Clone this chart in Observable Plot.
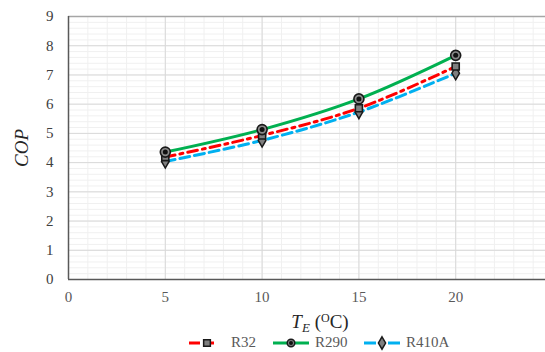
<!DOCTYPE html>
<html>
<head>
<meta charset="utf-8">
<script src="https://cdn.jsdelivr.net/npm/d3@7"></script>
<script src="https://cdn.jsdelivr.net/npm/@observablehq/plot@0.6"></script>
<style>
html, body { margin: 0; padding: 0; background: #fff; overflow: hidden; width: 545px; height: 352px; }
#chart { width: 545px; height: 333px; overflow: hidden; }
#chart svg { max-width: none !important; }
#chart svg text { font-family: "Liberation Serif", serif; }
#legend { position: relative; height: 19px; font-family: "Liberation Serif", serif; font-size: 15px; color: #595959; }
#legend .item { position: absolute; top: 0; display: flex; align-items: center; gap: 5px; height: 19px; }
</style>
</head>
<body>
<div id="chart"></div>
<div id="legend"></div>
<script>
const temps = [5, 10, 15, 20];
const r32 = [4.19, 4.93, 5.86, 7.29];
const r290 = [4.36, 5.13, 6.18, 7.67];
const r410a = [4.04, 4.76, 5.73, 7.06];
const xTicks = [0, 5, 10, 15, 20, 25];
const yTicks = [0, 1, 2, 3, 4, 5, 6, 7, 8, 9];
const seriesNames = ["R32", "R290", "R410A"];

const mk = (vals) => temps.map((t, i) => ({t, v: vals[i]}));
const d32 = mk(r32), d290 = mk(r290), d410 = mk(r410a);

const minorX = d3.range(0, 26, 1);
const minorY = d3.range(0, 9.001, 0.2);
const serif = "Liberation Serif";

const plot = Plot.plot({
  width: 560,
  height: 333,
  marginLeft: 68,
  marginRight: 8,
  marginTop: 16,
  marginBottom: 54,
  style: {fontFamily: "'Liberation Serif', serif", fontSize: "15px", color: "#404040", background: "#fff", maxWidth: "none"},
  x: {domain: [0, 25], label: null},
  y: {domain: [0, 9], label: null},
  marks: [
    Plot.gridX(minorX, {stroke: "#f0f0f0", strokeOpacity: 1}),
    Plot.gridY(minorY, {stroke: "#f0f0f0", strokeOpacity: 1}),
    Plot.gridX(xTicks, {stroke: "#d9d9d9", strokeOpacity: 1}),
    Plot.gridY(yTicks, {stroke: "#d9d9d9", strokeOpacity: 1}),
    Plot.ruleY([9], {stroke: "#a6a6a6", strokeWidth: 1.5}),
    Plot.axisX(xTicks, {tickSize: 0, tickPadding: 12, fill: "#595959", fontSize: 15, fontFamily: serif}),
    Plot.axisY(yTicks, {tickSize: 0, tickPadding: 15, fill: "#404040", fontSize: 15, fontFamily: serif}),
    Plot.ruleY([0], {stroke: "#595959", strokeWidth: 1.5}),
    Plot.ruleX([0], {stroke: "#595959", strokeWidth: 1.5}),
    Plot.line(d410, {x: "t", y: "v", stroke: "#00B0F0", strokeWidth: 3, strokeDasharray: "10,5", curve: "catmull-rom"}),
    Plot.line(d32, {x: "t", y: "v", stroke: "#FF0000", strokeWidth: 3, strokeDasharray: "10,5,3,5", curve: "catmull-rom"}),
    Plot.line(d290, {x: "t", y: "v", stroke: "#00B050", strokeWidth: 3, curve: "catmull-rom"}),
    Plot.dot(d410, {x: "t", y: "v", symbol: "diamond", r: 4, fill: "#7f7f7f", stroke: "#1a1a1a", strokeWidth: 1.5}),
    Plot.dot(d32, {x: "t", y: "v", symbol: "square", r: 4, fill: "#7f7f7f", stroke: "#1a1a1a", strokeWidth: 1.6}),
    Plot.dot(d290, {x: "t", y: "v", symbol: "circle", r: 5, fill: "#8a8a8a", stroke: "#1a1a1a", strokeWidth: 1.6}),
    Plot.dot(d290, {x: "t", y: "v", symbol: "circle", r: 2.5, fill: "#111"})
  ]
});
document.getElementById("chart").appendChild(plot);

const svg = d3.select(plot);
// Axis titles
const xt = svg.append("text")
  .attr("x", 320).attr("y", 328)
  .attr("text-anchor", "middle")
  .attr("font-family", "'Liberation Serif', serif")
  .attr("font-size", 19).attr("fill", "#262626");
xt.append("tspan").attr("font-style", "italic").text("T");
xt.append("tspan").attr("font-style", "italic").attr("font-size", 13).attr("dy", 4).text("E");
xt.append("tspan").attr("dy", -4).text(" (");
xt.append("tspan").attr("font-size", 12).attr("dy", -6).text("O");
xt.append("tspan").attr("dy", 6).text("C)");

svg.append("text")
  .attr("transform", "translate(28,148) rotate(-90)")
  .attr("text-anchor", "middle")
  .attr("font-family", "'Liberation Serif', serif")
  .attr("font-style", "italic")
  .attr("font-size", 19).attr("fill", "#262626")
  .text("COP");

// Legend
const legend = d3.select("#legend");
const specs = [
  {name: seriesNames[0], color: "#FF0000", dash: "11,8,6,20", symbol: d3.symbolSquare, left: 188},
  {name: seriesNames[1], color: "#00B050", dash: null, symbol: d3.symbolCircle, left: 272},
  {name: seriesNames[2], color: "#00B0F0", dash: "12,12", symbol: d3.symbolDiamond, left: 363}
];
specs.forEach(s => {
  const it = legend.append("div").attr("class", "item").style("left", s.left + "px");
  const sw = it.append("svg").attr("width", 38).attr("height", 16);
  sw.append("line").attr("x1", 1).attr("x2", 37).attr("y1", 8).attr("y2", 8)
    .attr("stroke", s.color).attr("stroke-width", 3)
    .attr("stroke-dasharray", s.dash);
  sw.append("path").attr("d", d3.symbol(s.symbol, 45)()).attr("transform", "translate(19,8)")
    .attr("fill", "#7f7f7f").attr("stroke", "#1a1a1a").attr("stroke-width", 1.5);
  if (s.name === "R290") sw.append("circle").attr("cx", 19).attr("cy", 8).attr("r", 2).attr("fill", "#111");
  it.append("span").text(s.name);
});
</script>
</body>
</html>
